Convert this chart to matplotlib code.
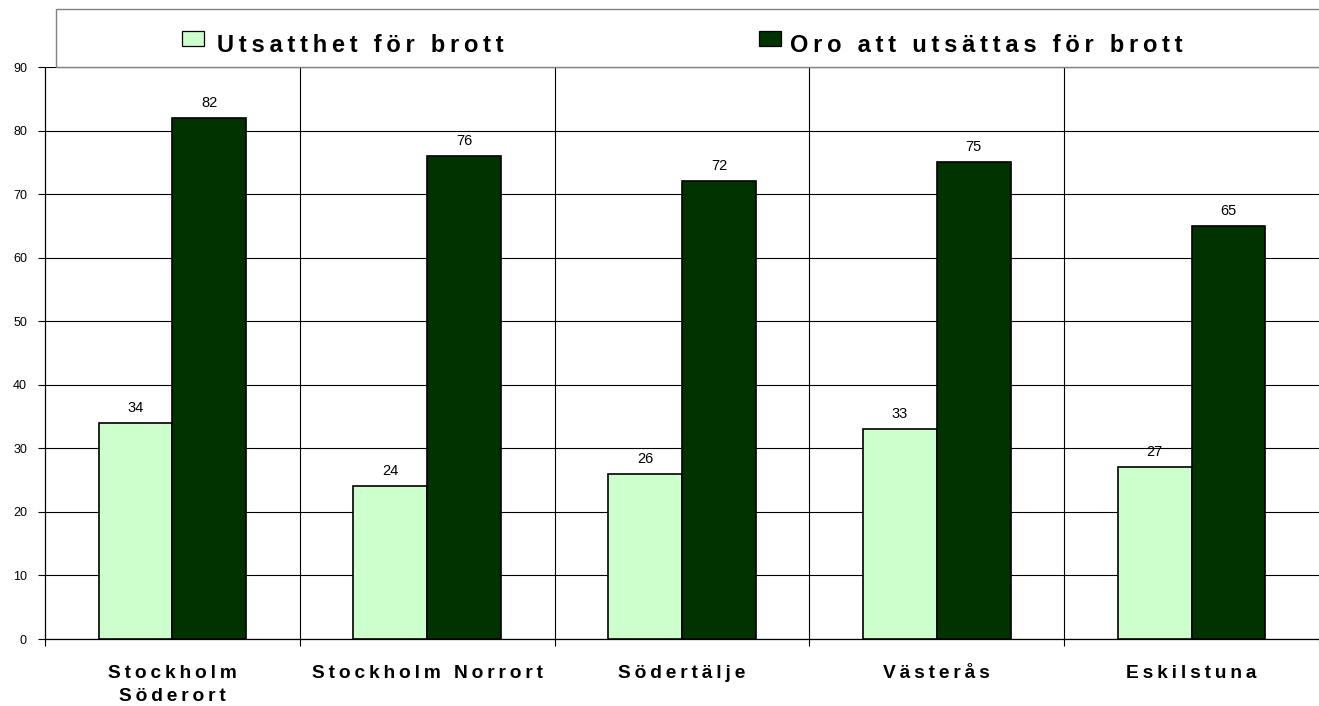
import matplotlib
matplotlib.use('Agg')
import matplotlib.pyplot as plt
from matplotlib.patches import Rectangle
import numpy as np

# ---- data ----
categories = ['Stockholm\nSöderort', 'Stockholm Norrort', 'Södertälje', 'Västerås', 'Eskilstuna']
utsatthet = [34, 24, 26, 33, 27]
oro = [82, 76, 72, 75, 65]
series_names = ['Utsatthet för brott', 'Oro att utsättas för brott']
yticks = list(range(0, 91, 10))

colors = ['#CCFFCC', '#003300']
FAM = ['Liberation Sans', 'DejaVu Sans']
plt.rcParams['font.family'] = FAM

W, H = 1319, 706
fig = plt.figure(figsize=(W / 100, H / 100), dpi=100)
fig.patch.set_facecolor('white')


def spaced(s, sep='\u2009'):
    return '\n'.join(sep.join(list(line)) for line in s.split('\n'))


def fx(x):
    return x / W


def fy(y):
    return 1 - y / H


ax_left, ax_right, ax_top, ax_bottom = 45, 1319, 67, 639
ax = fig.add_axes([fx(ax_left), fy(ax_bottom), (ax_right - ax_left) / W, (ax_bottom - ax_top) / H])

x = np.arange(len(categories))
bw = 0.29
b1 = ax.bar(x - bw / 2, utsatthet, bw, color=colors[0], edgecolor='black', linewidth=1.2, zorder=3)
b2 = ax.bar(x + bw / 2, oro, bw, color=colors[1], edgecolor='black', linewidth=1.2, zorder=3)

ax.set_xlim(-0.5, len(categories) - 0.5)
ax.set_ylim(0, 90)
ax.set_yticks(yticks)
ax.set_yticklabels([str(v) for v in yticks], fontsize=9)
ax.tick_params(axis='y', length=5, width=0.8, pad=8, direction='out')
ax.yaxis.grid(True, color='black', linewidth=0.8, zorder=0)

ax.set_xticks(np.arange(-0.5, len(categories) + 0.5, 1.0))
ax.set_xticklabels([])
ax.tick_params(axis='x', length=5, width=0.8, direction='out')
for xv in np.arange(0.5, len(categories) - 0.5, 1.0):
    ax.axvline(xv, color='black', linewidth=0.8, zorder=0)

for s in ['top', 'right']:
    ax.spines[s].set_visible(False)
for s in ['left', 'bottom']:
    ax.spines[s].set_linewidth(0.9)
    ax.spines[s].set_color('black')

# data labels
for bars, vals in ((b1, utsatthet), (b2, oro)):
    for rect, v in zip(bars, vals):
        ax.annotate(str(v), xy=(rect.get_x() + rect.get_width() / 2, v), xytext=(0, 11),
                    textcoords='offset pixels', ha='center', va='baseline', fontsize=10.5)

# category labels
for i, c in enumerate(categories):
    ax.annotate(spaced(c), xy=(i, 0), xycoords=('data', 'axes fraction'), xytext=(0, -26),
                textcoords='offset pixels', ha='center', va='top', fontsize=13.8,
                fontweight='bold', linespacing=1.45)

# legend box
fig.patches.append(Rectangle((fx(56), fy(67)), fx(1330 - 56), (67 - 9) / H, transform=fig.transFigure,
                             facecolor='white', edgecolor='#808080', linewidth=1.0, zorder=5))
leg_items = [(182, 217), (759, 790)]
for (px0, tx0), name, col in zip(leg_items, series_names, colors):
    fig.patches.append(Rectangle((fx(px0), fy(46)), fx(22), 15 / H, transform=fig.transFigure,
                                 facecolor=col, edgecolor='black', linewidth=0.9, zorder=6))
    fig.text(fx(tx0), fy(52), spaced(name), ha='left', va='baseline', fontsize=17,
             fontweight='bold', zorder=7)

fig.savefig('out.png', dpi=100, facecolor='white')
